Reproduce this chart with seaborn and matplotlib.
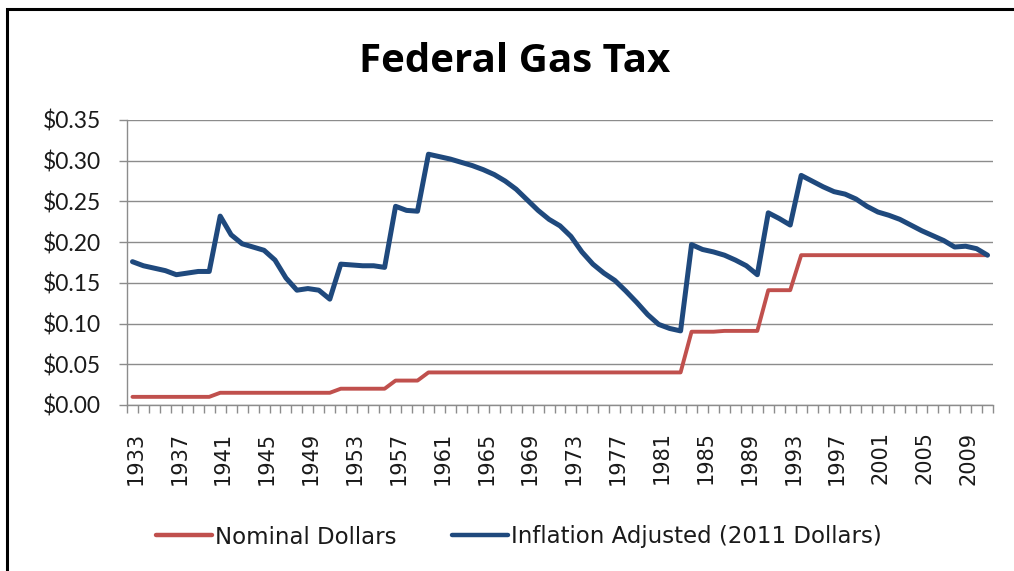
import numpy as np
import pandas as pd
import matplotlib
matplotlib.use("Agg")
import matplotlib.pyplot as plt
from matplotlib.patches import Rectangle
from matplotlib.lines import Line2D
from matplotlib.ticker import FixedLocator, FuncFormatter
from matplotlib.transforms import ScaledTranslation
import seaborn as sns

years = list(range(1933, 2012))

nominal = [
    0.01, 0.01, 0.01, 0.01, 0.01, 0.01, 0.01, 0.01,                     # 1933-1940
    0.015, 0.015, 0.015, 0.015, 0.015, 0.015, 0.015, 0.015, 0.015, 0.015, 0.015,  # 1941-1951
    0.02, 0.02, 0.02, 0.02, 0.02,                                       # 1952-1956
    0.03, 0.03, 0.03,                                                   # 1957-1959
    0.04, 0.04, 0.04, 0.04, 0.04, 0.04, 0.04, 0.04, 0.04, 0.04, 0.04, 0.04,  # 1960-1971
    0.04, 0.04, 0.04, 0.04, 0.04, 0.04, 0.04, 0.04, 0.04, 0.04, 0.04, 0.04,  # 1972-1983
    0.09, 0.09, 0.09, 0.091, 0.091, 0.091, 0.091,                       # 1984-1990
    0.141, 0.141, 0.141,                                                # 1991-1993
    0.184, 0.184, 0.184, 0.184, 0.184, 0.184, 0.184, 0.184, 0.184,      # 1994-2002
    0.184, 0.184, 0.184, 0.184, 0.184, 0.184, 0.184, 0.184, 0.184,      # 2003-2011
]

adjusted = [
    0.176, 0.171, 0.168, 0.165, 0.160, 0.162, 0.164, 0.164,             # 1933-1940
    0.232, 0.209, 0.198, 0.194, 0.190, 0.178, 0.156, 0.141, 0.143, 0.141, 0.130,  # 1941-1951
    0.173, 0.172, 0.171, 0.171, 0.169,                                  # 1952-1956
    0.244, 0.239, 0.238,                                                # 1957-1959
    0.308, 0.305, 0.302, 0.298, 0.294, 0.289, 0.283, 0.275, 0.265, 0.252, 0.239, 0.228,  # 1960-1971
    0.220, 0.207, 0.188, 0.173, 0.162, 0.153, 0.140, 0.126, 0.111, 0.099, 0.094, 0.091,  # 1972-1983
    0.197, 0.191, 0.188, 0.184, 0.178, 0.171, 0.160,                    # 1984-1990
    0.236, 0.229, 0.221,                                                # 1991-1993
    0.282, 0.275, 0.268, 0.262, 0.259, 0.253, 0.244, 0.237, 0.233,      # 1994-2002
    0.228, 0.221, 0.214, 0.208, 0.202, 0.194, 0.195, 0.192, 0.184,      # 2003-2011
]

series_names = ["Nominal Dollars", "Inflation Adjusted (2011 Dollars)"]
series_colors = ["#C0504D", "#1F497D"]
y_ticks = [0.00, 0.05, 0.10, 0.15, 0.20, 0.25, 0.30, 0.35]
x_label_years = list(range(1933, 2010, 4))

df = pd.concat([
    pd.DataFrame({"Year": years, "Value": nominal, "Series": series_names[0]}),
    pd.DataFrame({"Year": years, "Value": adjusted, "Series": series_names[1]}),
])

sns.set_theme(style="white")
plt.rcParams["font.family"] = ["DejaVu Sans"]

W, H = 1014, 571
fig = plt.figure(figsize=(W / 100, H / 100), dpi=100)
fig.patch.set_facecolor("white")

ax_left, ax_right, ax_top, ax_bottom = 127, 993, 120, 405
ax = fig.add_axes([ax_left / W, 1 - ax_bottom / H, (ax_right - ax_left) / W, (ax_bottom - ax_top) / H])

grid_color = "#8C8C8C"
text_color = "#1A1A1A"

sns.lineplot(data=df, x="Year", y="Value", hue="Series", hue_order=series_names,
             palette=dict(zip(series_names, series_colors)), ax=ax, legend=False,
             linewidth=3.3, sort=False)
for line, lw in zip(ax.get_lines(), [2.8, 3.6]):
    line.set_linewidth(lw)
    line.set_solid_capstyle("round")
    line.set_solid_joinstyle("round")

ax.set_xlim(years[0] - 0.5, years[-1] + 0.5)
ax.set_ylim(0, 0.35)
ax.set_yticks(y_ticks)
ax.yaxis.set_major_formatter(FuncFormatter(lambda v, p: f"${v:.2f}"))
ax.yaxis.grid(True, color=grid_color, linewidth=1.0)
ax.set_axisbelow(True)

ax.set_xticks(x_label_years)
ax.set_xticklabels([str(y) for y in x_label_years], rotation=90)
ax.xaxis.set_minor_locator(FixedLocator([y - 0.5 for y in years] + [years[-1] + 0.5]))
ax.tick_params(axis="x", which="major", length=0, pad=19, labelsize=15, labelcolor=text_color)
ax.tick_params(axis="x", which="minor", length=6, width=1, color=grid_color, direction="out", bottom=True)
ax.tick_params(axis="y", which="major", length=6, width=1, color=grid_color, direction="out",
               left=True, pad=13, labelsize=16.5, labelcolor=text_color)
for lab in ax.get_yticklabels():
    lab.set_fontfamily("Lato")
shift = ScaledTranslation(3 / 100, 0, fig.dpi_scale_trans)
for lab in ax.get_xticklabels():
    lab.set_transform(lab.get_transform() + shift)

for side in ["top", "right"]:
    ax.spines[side].set_visible(False)
ax.spines["left"].set_color(grid_color)
ax.spines["bottom"].set_color(grid_color)
ax.spines["left"].set_linewidth(1.0)
ax.spines["bottom"].set_linewidth(1.0)
ax.set_xlabel("")
ax.set_ylabel("")

fig.text(515 / W, 1 - 62 / H, "Federal Gas Tax", ha="center", va="center",
         fontsize=29, fontweight="bold", fontfamily="Open Sans", color="black")

handles = [Line2D([0], [0], color=c, lw=3.2, solid_capstyle="round") for c in series_colors]
leg = fig.legend(handles, series_names, loc="center", bbox_to_anchor=(519 / W, 1 - 537 / H),
                 ncol=2, frameon=False, handlelength=2.45, handletextpad=0.15, columnspacing=2.4,
                 prop={"family": "DejaVu Sans", "size": 16.5})
for t in leg.get_texts():
    t.set_color(text_color)

fig.patches.append(Rectangle((7 / W, -0.05), 1.2, 1 - 9 / H + 0.05, transform=fig.transFigure,
                             fill=False, edgecolor="black", linewidth=2.2, zorder=10))

fig.savefig("out.png", dpi=100, facecolor="white")
